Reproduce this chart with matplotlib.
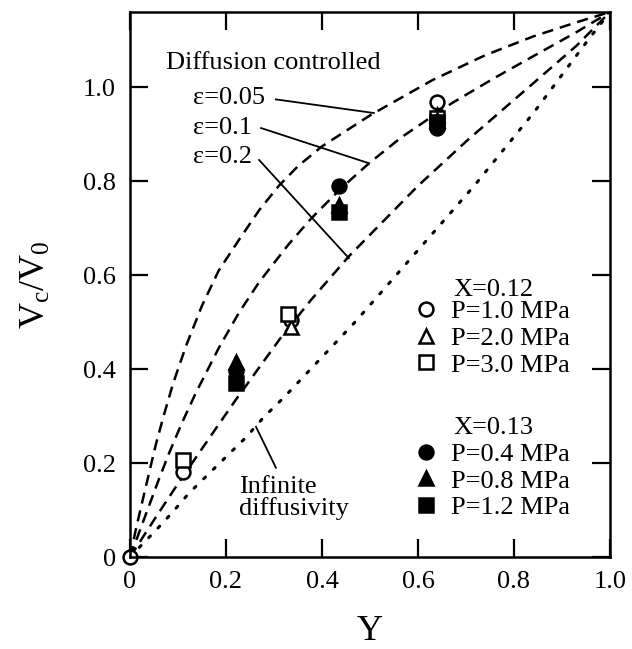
import matplotlib
matplotlib.use('Agg')
import matplotlib.pyplot as plt
from matplotlib.ticker import FuncFormatter

plt.rcParams['font.family'] = ['Liberation Serif', 'DejaVu Serif']
plt.rcParams['mathtext.fontset'] = 'custom'
plt.rcParams['mathtext.rm'] = 'Liberation Serif'
plt.rcParams['mathtext.it'] = 'Liberation Serif'

# theory curves (Y, Vc/V0)
eps005_y = [0, 0.0125, 0.025, 0.04, 0.054, 0.07, 0.09, 0.117, 0.15, 0.185, 0.227, 0.269,
            0.31, 0.35, 0.40, 0.50, 0.63, 0.74, 0.84, 0.93, 1.0]
eps005_v = [0, 0.06, 0.115, 0.18, 0.24, 0.30, 0.37, 0.45, 0.535, 0.61, 0.675, 0.738,
            0.79, 0.832, 0.874, 0.94, 1.015, 1.068, 1.108, 1.138, 1.16]
eps01_y = [0, 0.02, 0.04, 0.06, 0.081, 0.108, 0.1375, 0.185, 0.227, 0.269, 0.33, 0.377,
           0.44, 0.498, 0.565, 0.669, 0.76, 0.842, 0.93, 1.0]
eps01_v = [0, 0.055, 0.11, 0.165, 0.22, 0.285, 0.35, 0.445, 0.52, 0.585, 0.665, 0.72,
           0.785, 0.838, 0.893, 0.965, 1.02, 1.067, 1.117, 1.16]
eps02_y = [0, 0.054, 0.096, 0.1375, 0.18, 0.22, 0.315, 0.377, 0.456, 0.60, 0.704, 0.842, 0.93, 1.0]
eps02_v = [0, 0.085, 0.15, 0.212, 0.275, 0.334, 0.468, 0.547, 0.64, 0.79, 0.888, 1.01, 1.088, 1.16]
inf_y = [0, 0.054, 0.0875, 0.123, 0.165, 0.20, 0.242, 0.279, 0.321, 0.467, 0.523, 0.717,
         0.842, 0.954, 1.0]
inf_v = [0, 0.057, 0.094, 0.136, 0.178, 0.213, 0.255, 0.298, 0.34, 0.498, 0.563, 0.79,
         0.947, 1.10, 1.16]

# measured points, X=0.12 (open) and X=0.13 (filled)
p10_y = [0, 0.11, 0.335, 0.64]
p10_v = [0, 0.181, 0.505, 0.968]
p20_y = [0.335, 0.64]
p20_v = [0.49, 0.94]
p30_y = [0.11, 0.33, 0.64]
p30_v = [0.206, 0.518, 0.935]
p04_y = [0.22, 0.435, 0.64]
p04_v = [0.395, 0.79, 0.913]
p08_y = [0.22, 0.435, 0.64]
p08_v = [0.415, 0.75, 0.93]
p12_y = [0.22, 0.435, 0.64]
p12_v = [0.37, 0.735, 0.925]

fig = plt.figure(figsize=(6.32, 6.49), dpi=100)
ax = fig.add_axes([130 / 632, 92 / 649, 480 / 632, 545 / 649])

dash = (4.5, 2.8)
ax.plot(eps005_y, eps005_v, color='k', lw=1.8, ls=(0, dash))
ax.plot(eps01_y, eps01_v, color='k', lw=1.8, ls=(0, dash))
ax.plot(eps02_y, eps02_v, color='k', lw=1.8, ls=(0, dash))
ax.plot(inf_y, inf_v, color='k', lw=2.2, ls=(0, (0.8, 3.6)), dash_capstyle='round')

ms = 10
kw = dict(ls='none', ms=ms, mec='k', mew=1.8, clip_on=False)
h10, = ax.plot(p10_y, p10_v, 'o', mfc='white', label='P=1.0 MPa', **kw)
h20, = ax.plot(p20_y, p20_v, '^', mfc='white', label='P=2.0 MPa', **kw)
h30, = ax.plot(p30_y, p30_v, 's', mfc='white', label='P=3.0 MPa', **kw)
h04, = ax.plot(p04_y, p04_v, 'o', mfc='k', label='P=0.4 MPa', **kw)
h08, = ax.plot(p08_y, p08_v, '^', mfc='k', label='P=0.8 MPa', **kw)
h12, = ax.plot(p12_y, p12_v, 's', mfc='k', label='P=1.2 MPa', **kw)

fs = 19
leg_kw = dict(frameon=False, fontsize=fs, handlelength=0.9, handletextpad=0.5,
              labelspacing=0.12, borderpad=0, borderaxespad=0, loc='upper left')
leg1 = ax.legend(handles=[h10, h20, h30], bbox_to_anchor=(0.592, 0.472), **leg_kw)
ax.add_artist(leg1)
ax.legend(handles=[h04, h08, h12], bbox_to_anchor=(0.592, 0.21), **leg_kw)
ax.text(0.673, 0.568, 'X=0.12', fontsize=fs, va='center', ha='left')
ax.text(0.673, 0.274, 'X=0.13', fontsize=fs, va='center', ha='left')

# curve labels and leaders
ax.text(0.075, 1.051, 'Diffusion controlled', fontsize=fs, va='center', ha='left')
ax.text(0.131, 0.977, 'ε=0.05', fontsize=fs, va='center', ha='left')
ax.text(0.131, 0.913, 'ε=0.1', fontsize=fs, va='center', ha='left')
ax.text(0.131, 0.852, 'ε=0.2', fontsize=fs, va='center', ha='left')
ax.plot([0.304, 0.508], [0.974, 0.945], color='k', lw=1.3)
ax.plot([0.273, 0.498], [0.913, 0.838], color='k', lw=1.3)
ax.plot([0.269, 0.456], [0.845, 0.636], color='k', lw=1.3)
ax.text(0.227, 0.126, 'Infinite\ndiffusivity', fontsize=fs, va='center', ha='left',
        linespacing=0.95)
ax.plot([0.2625, 0.304], [0.277, 0.19], color='k', lw=1.3)

ax.set_xlim(0, 1.0)
ax.set_ylim(0, 1.16)
ax.set_xticks([0, 0.2, 0.4, 0.6, 0.8, 1.0])
ax.set_yticks([0, 0.2, 0.4, 0.6, 0.8, 1.0])
fmt = FuncFormatter(lambda v, p: '0' if abs(v) < 1e-9 else f'{v:.1f}')
ax.xaxis.set_major_formatter(fmt)
ax.yaxis.set_major_formatter(fmt)
ax.tick_params(direction='in', length=13, width=1.6, top=True, right=True,
               labelsize=fs)
ax.tick_params(axis='x', pad=10)
ax.tick_params(axis='y', pad=10)
for s in ax.spines.values():
    s.set_linewidth(1.8)

ax.set_xlabel('Y', fontsize=26, labelpad=16)
ax.set_ylabel(r'V$_\mathrm{c}$/V$_0$', fontsize=26, labelpad=22)

fig.savefig('out.png', dpi=100, facecolor='white')
